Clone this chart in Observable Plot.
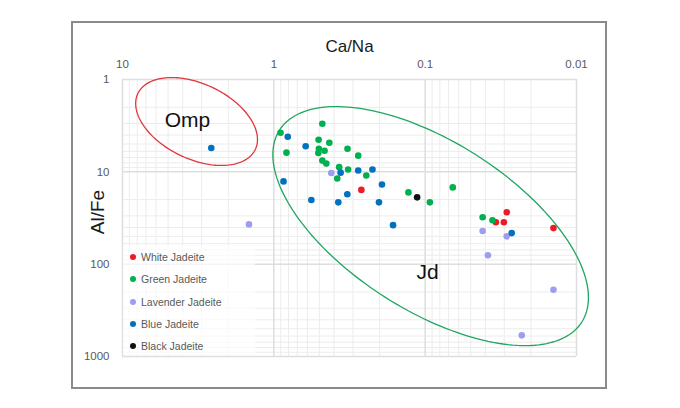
<!DOCTYPE html>
<html><head><meta charset="utf-8">
<script src="https://cdn.jsdelivr.net/npm/d3@7"></script>
<script src="https://cdn.jsdelivr.net/npm/@observablehq/plot@0.6"></script>
<style>
body{margin:0;background:#fff;font-family:"Liberation Sans",Arial,sans-serif;}
#wrap{position:relative;width:680px;height:408px;overflow:hidden;}
#chart{position:absolute;left:0;top:0;}
#border{position:absolute;left:71px;top:21px;width:536px;height:368px;border:2px solid #8a8a8a;box-sizing:border-box;pointer-events:none;}
#legend{position:absolute;left:123px;top:245px;width:132px;height:110px;background:rgba(255,255,255,0.65);}
.lg{position:absolute;left:0;height:14px;font-size:10.5px;color:#595959;white-space:nowrap;line-height:14px;}
.lg span{display:inline-block;width:6px;height:6px;border-radius:50%;margin:0 5px 0 7px;vertical-align:1px;}
</style></head><body>
<div id="wrap"><div id="chart"></div><div id="legend"></div><div id="border"></div></div>
<script>
// ---- series ----
const series = ["White Jadeite", "Green Jadeite", "Lavender Jadeite", "Blue Jadeite", "Black Jadeite"];
const colors = ["#ec1c24", "#00b050", "#9d9df2", "#0070c0", "#111111"];

const whiteCaNa = [0.264, 0.0289, 0.0341, 0.0302, 0.0142];
const whiteAlFe = [15.7, 27.4, 35.1, 35.1, 40.7];

const greenCaNa = [0.903, 0.825, 0.478, 0.506, 0.430, 0.504, 0.462, 0.508, 0.326, 0.277, 0.478, 0.450, 0.370, 0.323, 0.245, 0.381, 0.129, 0.0657, 0.0931, 0.0417, 0.0359];
const greenAlFe = [3.78, 6.2, 3.02, 4.5, 4.84, 5.62, 5.9, 6.25, 5.62, 6.68, 7.56, 8.14, 8.9, 9.45, 10.96, 11.8, 16.7, 14.75, 21.4, 31.0, 33.4];

const lavenderCaNa = [1.46, 0.417, 0.0417, 0.0289, 0.0385, 0.0142, 0.0230];
const lavenderAlFe = [37.1, 10.3, 43.8, 50.0, 80.0, 189, 590];

const blueCaNa = [2.59, 0.809, 0.863, 0.616, 0.362, 0.277, 0.223, 0.193, 0.327, 0.565, 0.375, 0.202, 0.163, 0.0268];
const blueAlFe = [5.52, 4.17, 12.7, 5.29, 10.2, 9.68, 9.45, 13.7, 17.5, 20.2, 21.4, 21.4, 37.8, 46.1];

const blackCaNa = [0.113];
const blackAlFe = [18.9];

// ---- ticks ----
const xTicks = [10, 1, 0.1, 0.01];
const yTicks = [1, 10, 100, 1000];

// ---- field ellipses (centre in data units, half-axis vectors in log10 decades) ----
const fieldNames = ["Omp", "Jd"];
const fieldCaNa = [3.24, 0.092];
const fieldAlFe = [2.85, 38.7];
const fieldMajor = [[-0.388, 0.303], [-0.999, 1.039]];
const fieldMinor = [[0.107, 0.367], [0.299, 0.772]];
const fieldColors = ["#e2353b", "#1fa660"];
const fieldLabelCaNa = [3.72, 0.0964];
const fieldLabelAlFe = [2.78, 123];

// ---- build tables ----
const seriesCaNa = [whiteCaNa, greenCaNa, lavenderCaNa, blueCaNa, blackCaNa];
const seriesAlFe = [whiteAlFe, greenAlFe, lavenderAlFe, blueAlFe, blackAlFe];
const points = series.flatMap((s, i) => seriesCaNa[i].map((v, j) => ({series: s, caNa: v, alFe: seriesAlFe[i][j]})));

const ellipsePts = fieldNames.map((name, k) => {
  const cx = Math.log10(fieldCaNa[k]), cy = Math.log10(fieldAlFe[k]);
  const [ax, ay] = fieldMajor[k], [bx, by] = fieldMinor[k];
  return d3.range(0, 360, 2).map(deg => {
    const t = deg * Math.PI / 180;
    return {name, caNa: 10 ** (cx + ax * Math.cos(t) + bx * Math.sin(t)), alFe: 10 ** (cy + ay * Math.cos(t) + by * Math.sin(t))};
  });
});
const fieldLabels = fieldNames.map((n, k) => ({name: n, caNa: fieldLabelCaNa[k], alFe: fieldLabelAlFe[k]}));

const minorX = [], minorY = [];
for (const d of [0.01, 0.1, 1]) for (let m = 2; m <= 9; m++) minorX.push(+(d * m).toPrecision(3));
for (const d of [1, 10, 100]) for (let m = 2; m <= 9; m++) minorY.push(d * m);

const plot = Plot.plot({
  width: 680, height: 408,
  marginLeft: 122, marginRight: 104, marginTop: 79, marginBottom: 52,
  style: {fontFamily: "'Liberation Sans', Arial, sans-serif", background: "transparent"},
  x: {type: "log", domain: [10, 0.01]},
  y: {type: "log", domain: [1, 1000], reverse: true},
  color: {domain: series, range: colors},
  marks: [
    Plot.gridX(minorX, {stroke: "#ececec", strokeOpacity: 1}),
    Plot.gridY(minorY, {stroke: "#ececec", strokeOpacity: 1}),
    Plot.gridX(xTicks, {stroke: "#dedede", strokeOpacity: 1, strokeWidth: 1.5}),
    Plot.gridY(yTicks, {stroke: "#dedede", strokeOpacity: 1, strokeWidth: 1.5}),
    Plot.axisX(xTicks, {anchor: "top", tickSize: 0, tickPadding: 12, tickFormat: d => String(d), label: null, fontSize: 11.5, fill: "#595959"}),
    Plot.axisY(yTicks, {anchor: "left", tickSize: 0, tickPadding: 13, tickFormat: d => String(d), label: null, fontSize: 11.5, fill: "#595959"}),
    Plot.text(["Ca/Na"], {frameAnchor: "top", lineAnchor: "middle", textAnchor: "middle", dy: -33, fontSize: 17, fill: "#1a1a1a"}),
    Plot.text(["Al/Fe"], {frameAnchor: "left", lineAnchor: "middle", textAnchor: "middle", dx: -25, dy: -6, rotate: -90, fontSize: 19, fill: "#1a1a1a"}),
    ...ellipsePts.map((pts, k) => Plot.line(pts, {x: "caNa", y: "alFe", stroke: fieldColors[k], strokeWidth: 1.3, curve: "linear-closed"})),
    Plot.text(fieldLabels, {x: "caNa", y: "alFe", text: "name", fontSize: 21, fill: "#111"}),
    Plot.dot(points, {x: "caNa", y: "alFe", fill: "series", r: 3.3})
  ]
});
document.getElementById("chart").appendChild(plot);

// legend
const lg = d3.select("#legend");
series.forEach((s, i) => {
  const row = lg.append("div").attr("class", "lg").style("top", (5 + i * 22.3) + "px");
  row.append("span").style("background", colors[i]);
  row.append("text").text(s);
});
</script>
</body></html>
